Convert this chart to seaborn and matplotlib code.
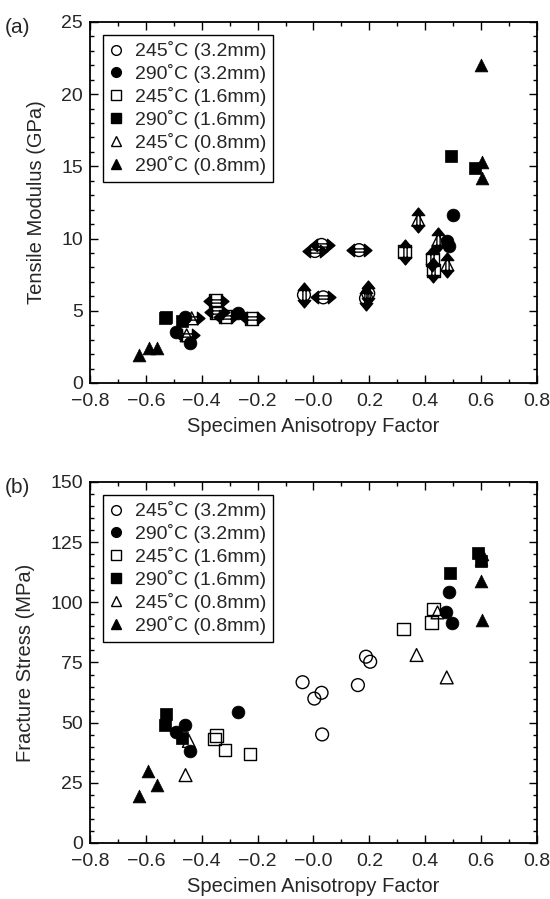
import numpy as np
import pandas as pd
import matplotlib
matplotlib.use("Agg")
import matplotlib.pyplot as plt
from matplotlib.path import Path
from matplotlib.lines import Line2D
from matplotlib.ticker import MultipleLocator
import seaborn as sns

# ---------------- data: (a) tensile modulus ----------------
a_o245_32_x = [-0.034, 0.005, 0.029, 0.035, 0.163, 0.188, 0.196]
a_o245_32_y = [6.1, 9.14, 9.56, 5.93, 9.2, 5.86, 6.2]
a_o245_32_d = ["v", "h", "h", "h", "h", "v", "v"]
a_f290_32_x = [-0.492, -0.46, -0.442, -0.271, 0.477, 0.486, 0.498]
a_f290_32_y = [3.55, 4.6, 2.8, 4.83, 9.83, 9.5, 11.6]
a_o245_16_x = [-0.35, -0.347, -0.314, -0.221, 0.327, 0.425, 0.429]
a_o245_16_y = [5.7, 4.9, 4.6, 4.48, 9.1, 8.57, 7.8]
a_o245_16_d = ["h", "h", "h", "h", "v", "v", "v"]
a_f290_16_x = [-0.528, -0.53, -0.472, 0.491, 0.578]
a_f290_16_y = [4.6, 4.5, 4.3, 15.74, 14.87]
a_o245_08_x = [-0.436, -0.454, 0.375, 0.447, 0.479]
a_o245_08_y = [4.48, 3.3, 11.3, 9.9, 8.2]
a_o245_08_d = ["h", "h", "v", "v", "v"]
a_f290_08_x = [-0.625, -0.59, -0.559, 0.6, 0.605, 0.602]
a_f290_08_y = [1.94, 2.4, 2.4, 22.0, 15.33, 14.2]

# ---------------- data: (b) fracture stress ----------------
b_o245_32_x = [-0.039, 0.003, 0.029, 0.031, 0.159, 0.188, 0.203]
b_o245_32_y = [66.8, 60.0, 62.4, 45.1, 65.6, 77.4, 75.3]
b_f290_32_x = [-0.492, -0.459, -0.442, -0.271, 0.474, 0.486, 0.497]
b_f290_32_y = [46.0, 49.0, 38.2, 54.6, 96.1, 104.4, 91.3]
b_o245_16_x = [-0.353, -0.347, -0.317, -0.227, 0.321, 0.423, 0.429]
b_o245_16_y = [43.2, 44.6, 38.6, 37.0, 88.9, 91.7, 97.2]
b_f290_16_x = [-0.528, -0.53, -0.472, 0.488, 0.59, 0.6]
b_f290_16_y = [53.6, 49.0, 43.8, 112.0, 120.5, 117.0]
b_o245_08_x = [-0.446, -0.458, 0.369, 0.444, 0.477]
b_o245_08_y = [42.4, 28.2, 78.1, 95.8, 68.8]
b_f290_08_x = [-0.625, -0.591, -0.561, 0.605, 0.6, 0.6, 0.602]
b_f290_08_y = [19.5, 29.9, 24.1, 120.0, 118.0, 109.0, 92.6]

legend_labels = ["245˚C (3.2mm)", "290˚C (3.2mm)", "245˚C (1.6mm)",
                 "290˚C (1.6mm)", "245˚C (0.8mm)", "290˚C (0.8mm)"]
legend_markers = ["o", "o", "s", "s", "^", "^"]
legend_filled = [False, True, False, True, False, True]

# ---------------- style ----------------
sns.set_theme(style="ticks")
plt.rcParams["font.family"] = ["Liberation Sans", "DejaVu Sans"]
plt.rcParams["axes.linewidth"] = 1.3
plt.rcParams["xtick.direction"] = "in"
plt.rcParams["ytick.direction"] = "in"


def arrow_path(orient):
    tip, base, hh, sh = 1.0, 0.40, 0.5, 0.13
    verts = [(-tip, 0), (-base, hh), (-base, -hh), (-tip, 0),
             (tip, 0), (base, hh), (base, -hh), (tip, 0),
             (-base, sh), (base, sh),
             (-base, -sh), (base, -sh)]
    codes = [Path.MOVETO, Path.LINETO, Path.LINETO, Path.CLOSEPOLY,
             Path.MOVETO, Path.LINETO, Path.LINETO, Path.CLOSEPOLY,
             Path.MOVETO, Path.LINETO,
             Path.MOVETO, Path.LINETO]
    if orient == "v":
        verts = [(y, x) for x, y in verts]
    return Path(verts, codes)


H_ARROW = arrow_path("h")
V_ARROW = arrow_path("v")

fig = plt.figure(figsize=(5.5, 8.99), dpi=100)
ax1 = fig.add_axes([0.1636, 0.574, 0.8127, 0.4016])
ax2 = fig.add_axes([0.1636, 0.0623, 0.8127, 0.4016])

MS = 85


def draw(ax, x, y, marker, filled, dirs=None):
    df = pd.DataFrame({"x": x, "y": y})
    if dirs is not None:
        df["d"] = dirs
        for d, mk in (("h", H_ARROW), ("v", V_ARROW)):
            sub = df[df["d"] == d]
            if len(sub):
                sns.scatterplot(data=sub, x="x", y="y", ax=ax, marker=mk, s=320,
                                color="black", edgecolor="black", linewidth=1.0,
                                legend=False, zorder=3)
    if filled:
        sns.scatterplot(data=df, x="x", y="y", ax=ax, marker=marker, s=MS,
                        color="black", edgecolor="black", linewidth=0.5,
                        legend=False, zorder=4)
    else:
        sns.scatterplot(data=df, x="x", y="y", ax=ax, marker=marker, s=MS,
                        facecolor="none", edgecolor="black", linewidth=1.0,
                        legend=False, zorder=4)


draw(ax1, a_o245_32_x, a_o245_32_y, "o", False, a_o245_32_d)
draw(ax1, a_f290_32_x, a_f290_32_y, "o", True)
draw(ax1, a_o245_16_x, a_o245_16_y, "s", False, a_o245_16_d)
draw(ax1, a_f290_16_x, a_f290_16_y, "s", True)
draw(ax1, a_o245_08_x, a_o245_08_y, "^", False, a_o245_08_d)
draw(ax1, a_f290_08_x, a_f290_08_y, "^", True)

draw(ax2, b_o245_32_x, b_o245_32_y, "o", False)
draw(ax2, b_f290_32_x, b_f290_32_y, "o", True)
draw(ax2, b_o245_16_x, b_o245_16_y, "s", False)
draw(ax2, b_f290_16_x, b_f290_16_y, "s", True)
draw(ax2, b_o245_08_x, b_o245_08_y, "^", False)
draw(ax2, b_f290_08_x, b_f290_08_y, "^", True)


def style_axes(ax, ylim, ymajor, yminor, ylabel):
    ax.set_xlim(-0.8, 0.8)
    ax.set_ylim(*ylim)
    ax.xaxis.set_major_locator(MultipleLocator(0.2))
    ax.xaxis.set_minor_locator(MultipleLocator(0.1))
    ax.yaxis.set_major_locator(MultipleLocator(ymajor))
    ax.yaxis.set_minor_locator(MultipleLocator(yminor))
    ax.tick_params(which="both", direction="in", top=True, right=True,
                   color="black", width=1.0)
    ax.tick_params(which="major", length=6, labelsize=14)
    ax.tick_params(axis="x", which="major", pad=7)
    ax.tick_params(axis="y", which="major", pad=5)
    ax.tick_params(which="minor", length=3)
    ticks = np.round(np.arange(-0.8, 0.81, 0.2), 1)
    ax.set_xticks(ticks)
    ax.set_xticklabels([f"{v:.1f}".replace("-", "\u2212") for v in ticks])
    ax.set_xlabel("Specimen Anisotropy Factor", fontsize=14.5, labelpad=5)
    ax.set_ylabel(ylabel, fontsize=14.5, labelpad=11)
    for s in ax.spines.values():
        s.set_color("black")
        s.set_linewidth(1.3)
    handles = [Line2D([], [], linestyle="none", marker=m, markersize=7,
                      markerfacecolor=("black" if f else "white"),
                      markeredgecolor="black", markeredgewidth=1.0)
               for m, f in zip(legend_markers, legend_filled)]
    leg = ax.legend(handles, legend_labels, loc="upper left", fontsize=14,
                    frameon=True, fancybox=False, edgecolor="black",
                    handlelength=0.7, handletextpad=0.6, labelspacing=0.2,
                    borderpad=0.35, borderaxespad=0.65)
    leg.get_frame().set_linewidth(1.0)
    leg.get_frame().set_alpha(1)


style_axes(ax1, (0, 25), 5, 1, "Tensile Modulus (GPa)")
style_axes(ax2, (0, 150), 25, 5, "Fracture Stress (MPa)")

fig.text(0.008, 0.963, "(a)", fontsize=15)
fig.text(0.008, 0.452, "(b)", fontsize=15)

fig.savefig("out.png", dpi=100)
